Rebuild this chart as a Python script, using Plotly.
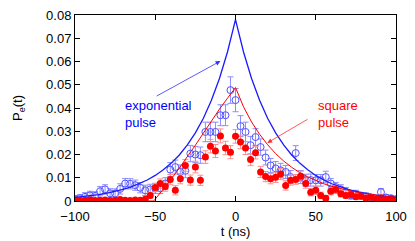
import plotly.graph_objects as go

# measurement times (ns)
t_data = [-100, -96.875, -93.75, -90.625, -87.5, -84.375, -81.25, -78.125, -75, -71.875,
          -68.75, -65.625, -62.5, -59.375, -56.25, -53.125, -50, -46.875, -43.75, -40.625,
          -37.5, -34.375, -31.25, -28.125, -25, -21.875, -18.75, -15.625, -12.5, -9.375,
          -6.25, -3.125, 0, 3.125, 6.25, 9.375, 12.5, 15.625, 18.75, 21.875,
          25, 28.125, 31.25, 34.375, 37.5, 40.625, 43.75, 46.875, 50, 53.125,
          56.25, 59.375, 62.5, 65.625, 68.75, 71.875, 75, 78.125, 81.25, 84.375,
          87.5, 90.625, 93.75, 96.875, 100]

# exponential pulse data (open blue circles)
exp_data = [0.0008, 0.0012, 0.0018, 0.0024, 0.0022, 0.0042, 0.0050, 0.0033, 0.0032, 0.0052,
            0.0075, 0.0074, 0.0068, 0.0057, 0.0046, 0.0050, 0.0054, 0.0054, 0.0075, 0.0135,
            0.0146, 0.0125, 0.0130, 0.0204, 0.0200, 0.0197, 0.0297, 0.0297, 0.0297, 0.0369,
            0.0369, 0.0477, 0.0434, 0.0322, 0.0297, 0.0240, 0.0275, 0.0232, 0.0187, 0.0153,
            0.0140, 0.0132, 0.0125, 0.0103, 0.0206, 0.0103, 0.0089, 0.0090, 0.0089, 0.0089,
            0.0103, 0.0075, 0.0060, 0.0050, 0.0040, 0.0024, 0.0030, 0.0022, 0.0020, 0.0015,
            0.0003, 0.0038, 0.0015, 0.0012, 0.0008]
exp_err = [0.0015, 0.0015, 0.0018, 0.0018, 0.0018, 0.0020, 0.0020, 0.0020, 0.0020, 0.0022,
           0.0022, 0.0022, 0.0022, 0.0022, 0.0022, 0.0022, 0.0022, 0.0022, 0.0025, 0.0030,
           0.0030, 0.0030, 0.0030, 0.0035, 0.0035, 0.0035, 0.0042, 0.0042, 0.0042, 0.0045,
           0.0045, 0.0057, 0.0050, 0.0045, 0.0042, 0.0038, 0.0036, 0.0035, 0.0032, 0.0030,
           0.0030, 0.0030, 0.0028, 0.0028, 0.0032, 0.0028, 0.0026, 0.0026, 0.0025, 0.0025,
           0.0025, 0.0022, 0.0020, 0.0020, 0.0018, 0.0016, 0.0016, 0.0015, 0.0015, 0.0014,
           0.0012, 0.0016, 0.0012, 0.0012, 0.0010]

# square pulse data (filled red circles)
sq_data = [0.0004, 0.0002, 0.0003, 0.0005, 0.0002, 0.0003, 0.0004, 0.0002, 0.0003, 0.0006,
           0.0003, 0.0002, 0.0004, 0.0003, 0.0008, 0.0024, 0.0058, 0.0075, 0.0062, 0.0092,
           0.0046, 0.0096, 0.0153, 0.0090, 0.0146, 0.0089, 0.0189, 0.0236, 0.0215, 0.0280,
           0.0228, 0.0210, 0.0278, 0.0254, 0.0228, 0.0178, 0.0208, 0.0125, 0.0105, 0.0096,
           0.0102, 0.0116, 0.0067, 0.0089, 0.0093, 0.0106, 0.0075, 0.0038, 0.0046, 0.0024,
           0.0012, 0.0042, 0.0049, 0.0031, 0.0024, 0.0028, 0.0018, 0.0022, 0.0012, 0.0016,
           0.0008, 0.0014, 0.0006, 0.0010, 0.0004]
sq_err = [0.0005, 0.0005, 0.0005, 0.0005, 0.0005, 0.0005, 0.0005, 0.0005, 0.0005, 0.0005,
          0.0005, 0.0005, 0.0005, 0.0005, 0.0008, 0.0012, 0.0018, 0.0020, 0.0020, 0.0022,
          0.0020, 0.0022, 0.0025, 0.0022, 0.0025, 0.0022, 0.0027, 0.0029, 0.0028, 0.0030,
          0.0029, 0.0028, 0.0029, 0.0029, 0.0028, 0.0026, 0.0027, 0.0024, 0.0022, 0.0022,
          0.0022, 0.0023, 0.0020, 0.0021, 0.0021, 0.0022, 0.0020, 0.0016, 0.0017, 0.0014,
          0.0010, 0.0016, 0.0017, 0.0014, 0.0013, 0.0013, 0.0011, 0.0012, 0.0009, 0.0010,
          0.0007, 0.0009, 0.0006, 0.0007, 0.0005]

# theory curves
exp_theory_t = [-100, -95, -90, -85, -80, -75, -70, -65, -60, -55, -50, -45, -40, -35, -30,
                -25, -20, -15, -10, -5, 0, 5, 10, 15, 20, 25, 30, 35, 40, 45, 50, 55, 60,
                65, 70, 75, 80, 85, 90, 95, 100]
exp_theory_p = [0.00154, 0.00188, 0.00229, 0.00278, 0.00339, 0.00412, 0.00501, 0.00610,
                0.00742, 0.00902, 0.0110, 0.0134, 0.0163, 0.0198, 0.0241, 0.0293, 0.0356,
                0.0433, 0.0527, 0.0641, 0.0780, 0.0641, 0.0527, 0.0433, 0.0356, 0.0293,
                0.0241, 0.0198, 0.0163, 0.0134, 0.0110, 0.00902, 0.00742, 0.00610, 0.00501,
                0.00412, 0.00339, 0.00278, 0.00229, 0.00188, 0.00154]

sq_theory_t = [-100, -51, -50, -45, -40, -35, -30, -25, -20, -15, -10, -5, 0, 5, 10, 15, 20,
               25, 30, 35, 40, 45, 50, 55, 60, 65, 70, 75, 80, 85, 90, 95, 100]
sq_theory_p = [0.0, 0.0, 0.0008, 0.0050, 0.0095, 0.0142, 0.0190, 0.0240, 0.0292, 0.0344,
               0.0395, 0.0442, 0.0488, 0.0405, 0.0340, 0.0287, 0.0242, 0.0204, 0.0172,
               0.0145, 0.0122, 0.0104, 0.0088, 0.0074, 0.0063, 0.0054, 0.0045, 0.0038,
               0.0032, 0.0027, 0.0023, 0.0019, 0.0016]

FONT = "Liberation Sans, Arial, sans-serif"

fig = go.Figure()

fig.add_trace(go.Scatter(
    x=t_data, y=exp_data, mode="markers",
    marker=dict(symbol="circle-open", size=7, color="#5050ff", line=dict(width=1)),
    error_y=dict(type="data", array=exp_err, visible=True, color="#8c8cff",
                 thickness=1, width=3),
    showlegend=False, cliponaxis=True, hoverinfo="skip"))

fig.add_trace(go.Scatter(
    x=t_data, y=sq_data, mode="markers",
    marker=dict(symbol="circle", size=7, color="#ff0000"),
    error_y=dict(type="data", array=sq_err, visible=True, color="#ff8c8c",
                 thickness=1, width=3),
    showlegend=False, cliponaxis=True, hoverinfo="skip"))

fig.add_trace(go.Scatter(
    x=exp_theory_t, y=exp_theory_p, mode="lines",
    line=dict(color="#1a1aff", width=1.3), showlegend=False, hoverinfo="skip"))

fig.add_trace(go.Scatter(
    x=sq_theory_t, y=sq_theory_p, mode="lines",
    line=dict(color="#ff0000", width=1), showlegend=False, hoverinfo="skip"))

fig.add_annotation(x=-70, y=0.0450, xref="x", yref="y", text="exponential<br>pulse",
                   showarrow=False, xanchor="left", yanchor="top", align="left",
                   font=dict(family=FONT, size=13, color="#0000ff"))
fig.add_annotation(x=50, y=0.0450, xref="x", yref="y", text="square<br>pulse",
                   showarrow=False, xanchor="left", yanchor="top", align="left",
                   font=dict(family=FONT, size=13, color="#ff0000"))

fig.add_annotation(x=-9.4, y=0.0602, ax=-50, ay=0.0448, xref="x", yref="y",
                   axref="x", ayref="y", text="", showarrow=True,
                   arrowhead=2, arrowsize=1.2, arrowwidth=0.8, arrowcolor="#3030ff")
fig.add_annotation(x=19.8, y=0.025, ax=45.8, ay=0.0355, xref="x", yref="y",
                   axref="x", ayref="y", text="", showarrow=True,
                   arrowhead=2, arrowsize=1.2, arrowwidth=0.8, arrowcolor="#ff3030")

axis_common = dict(showline=True, linecolor="black", linewidth=1, mirror="ticks",
                   ticks="inside", ticklen=5, tickcolor="black", showgrid=False,
                   zeroline=False, automargin=False,
                   tickfont=dict(family=FONT, size=13, color="black"))

fig.update_xaxes(range=[-100, 100], tickvals=[-100, -50, 0, 50, 100],
                 ticklabelstandoff=3,
                 title=dict(text="t (ns)", font=dict(family=FONT, size=13, color="black"),
                            standoff=3),
                 **axis_common)
fig.update_yaxes(range=[0, 0.08], tickvals=[0, 0.01, 0.02, 0.03, 0.04, 0.05, 0.06, 0.07, 0.08],
                 ticktext=["0", "0.01", "0.02", "0.03", "0.04", "0.05", "0.06", "0.07", "0.08"],
                 title=dict(text="P<sub>e</sub>(t)", font=dict(family=FONT, size=13, color="black"),
                            standoff=20),
                 **axis_common)

fig.update_layout(width=415, height=241, margin=dict(l=75, r=19, t=15, b=40),
                  plot_bgcolor="white", paper_bgcolor="white",
                  font=dict(family=FONT, size=13, color="black"))

fig.write_html("out.html", config={"displayModeBar": False},
               post_script="document.body.style.margin='0';document.body.style.overflow='hidden';")
